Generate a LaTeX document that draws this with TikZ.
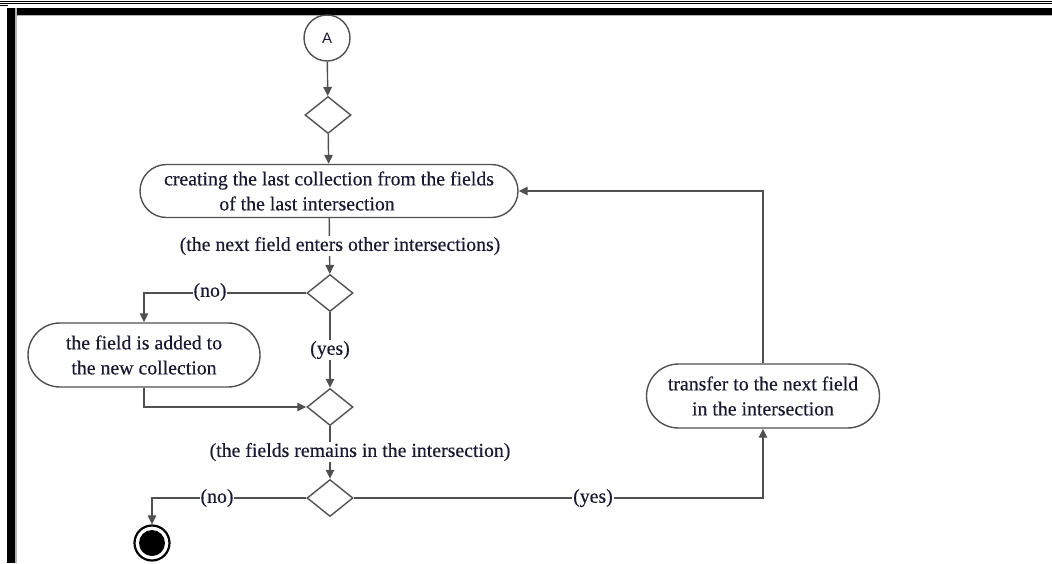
\documentclass[tikz,border=0pt]{standalone}
\usepackage{fontspec}
\setmainfont[FakeBold=0.35]{Liberation Serif}
\newfontfamily\sansA{Liberation Sans}
\usetikzlibrary{arrows.meta,shapes.geometric,shapes.misc}
\definecolor{linegray}{RGB}{80,80,80}
\definecolor{txt}{RGB}{25,25,50}
\begin{document}
\begin{tikzpicture}[x=1pt,y=-1pt,
  line/.style={draw=linegray, line width=1.4pt},
  arr/.style={line, -{Triangle[length=9pt,width=8.5pt]}},
  act/.style={rounded rectangle, draw=linegray, line width=1.4pt, align=center, inner sep=2pt,
    text=txt, font=\fontsize{19.8}{25}\selectfont},
  dec/.style={diamond, draw=linegray, line width=1.4pt, minimum width=46pt, minimum height=37pt, inner sep=0pt},
  lbl/.style={fill=white, inner sep=1pt, text=txt, font=\fontsize{19.8}{24}\selectfont}
]
\useasboundingbox (0,0) rectangle (1052,563);
% frame
\draw[line width=1pt] (0,1) -- (1052,1);
\draw[line width=1.8pt] (0,3.4) -- (1052,3.4);
\draw[line width=1pt] (0,5.5) -- (8,5.5);
\fill[gray!60] (7,8) rectangle (1052,16);
\fill (7,8) rectangle (1052,14.5);
\fill[gray!60] (7,8) rectangle (16.5,563);
\fill (7,8) rectangle (15,563);

% nodes
\node[circle, draw=linegray, line width=1.4pt, minimum size=46pt, inner sep=0pt, text=txt] (A) at (327,38) {\sansA\fontsize{15}{15}\selectfont A};
\node[dec] (d1) at (328,115) {};
\node[act, minimum width=382pt, minimum height=53pt] (b1) at (329,191) {creating the last collection from the fields\\of the last intersection\hspace*{44pt}};
\node[dec] (d2) at (330,293) {};
\node[act, minimum width=236pt, minimum height=64pt] (b2) at (144,355) {the field is added to\\the new collection};
\node[dec] (d3) at (330,407) {};
\node[dec] (d4) at (330,498) {};
\node[act, minimum width=237pt, minimum height=64pt] (b3) at (763,396) {transfer to the next field\\in the intersection};
\node[circle, draw=black, line width=2.2pt, minimum size=35pt, inner sep=0pt] (end) at (152,543) {};
\node[circle, fill=black, minimum size=26pt, inner sep=0pt] (endin) at (end.center) {};

% connectors
\draw[arr] (A) -- (d1);
\draw[arr] (d1) -- (b1);
\draw[arr] (b1) -- (d2);
\draw[arr] (d2.west) -| (b2.north);
\draw[arr] (b2.south) |- (d3.west);
\draw[arr] (d2) -- (d3);
\draw[arr] (d3) -- (d4);
\draw[arr] (d4.west) -| (end.north);
\draw[arr] (d4.east) -| (b3.south);
\draw[arr] (b3.north) |- (b1.east);

% labels
\node[lbl] (l1) at (340,246) {(the next field enters other intersections)};
\node[lbl] (l2) at (210,292) {(no)};
\node[lbl] (l3) at (330,350) {(yes)};
\node[lbl] (l4) at (360,452) {(the fields remains in the intersection)};
\node[lbl] (l5) at (217,498) {(no)};
\node[lbl] (l6) at (593,498) {(yes)};
\end{tikzpicture}
\end{document}
